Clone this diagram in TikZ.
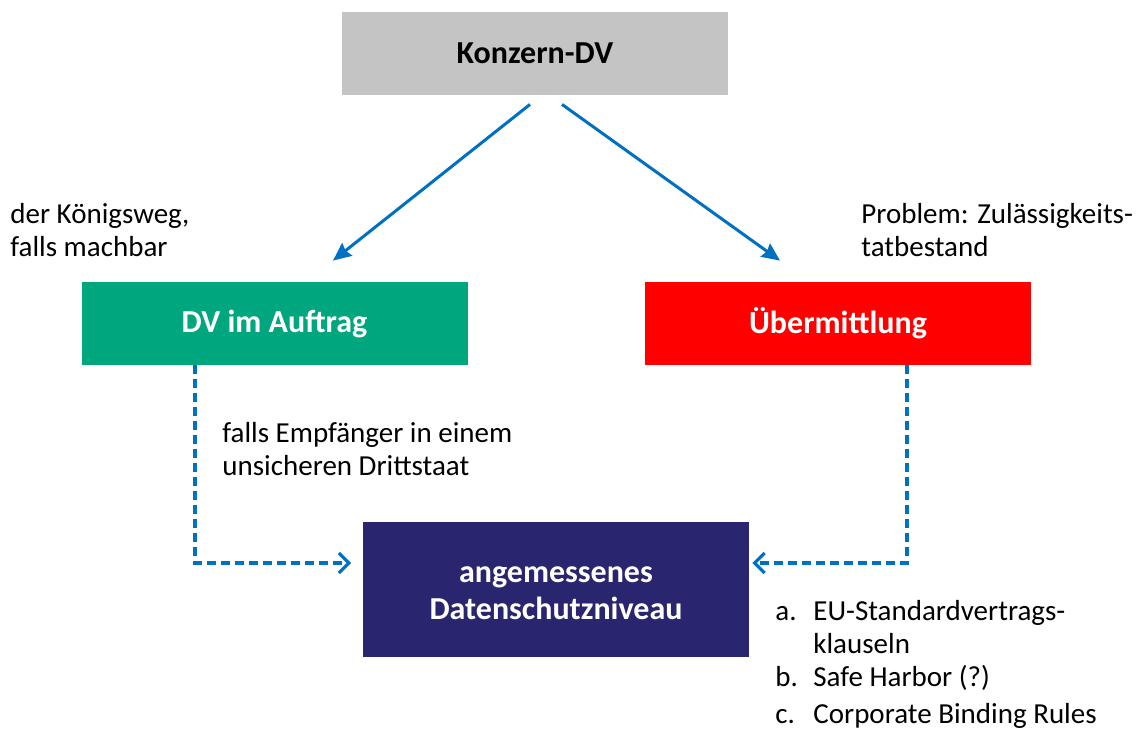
\documentclass[tikz,border=0pt]{standalone}
\usepackage{fontspec}
\setmainfont{Carlito}
\usepackage{tikz}
\usetikzlibrary{arrows.meta, positioning}

\definecolor{kgray}{HTML}{C4C4C4}
\definecolor{kgreen}{HTML}{00A67E}
\definecolor{kred}{HTML}{FF0000}
\definecolor{kblue}{HTML}{29266F}
\definecolor{karrow}{HTML}{0070C0}

\tikzset{
	box/.style={minimum width=193pt, minimum height=41.5pt, align=center, font=\fontsize{16}{18.5}\selectfont\bfseries},
	note/.style={anchor=north west, align=left, inner sep=0pt, font=\fontsize{14.5}{16.5}\selectfont},
	item/.style={note, text height=10.5pt},
	arr/.style={draw=karrow, line width=1.5pt, -{Stealth[length=9pt, width=8pt, inset=1pt]}},
	darr/.style={draw=karrow, line width=1.6pt, dash pattern=on 4.5pt off 2.5pt, -{Straight Barb[length=5pt, width=10pt, line width=1.6pt]}}
}

\begin{document}
\begin{tikzpicture}[x=0.5pt, y=-0.5pt]

\useasboundingbox (0,0) rectangle (1142,729);

\node [box, fill=kgray] (kdv) at (535,53.5) {Konzern-DV};
\node [box, fill=kgreen, text=white] (auf) at (274.5,323.5) {DV im Auftrag};
\node [box, fill=kred, text=white] (ueb) at (838,323.5) {Übermittlung};
\node [box, fill=kblue, text=white, minimum height=67.5pt, text height=30.5pt] (adn) at (556,589.5) {
	angemessenes \\
	Datenschutzniveau
};

\node [note] (weg) at (10,203) {
	der Königsweg, \\
	falls machbar
};
\node [note] (prob) at (861,203) {
	Problem: Zulässigkeits- \\
	tatbestand
};
\node [note] (fall) at (222,422) {
	falls Empfänger in einem \\
	unsicheren Drittstaat
};

% Liste a.-c.
\node [item] (la) at (775,599) {a.};
\node [item] (ta) at (813,599) {EU-Standardvertrags-};
\node [item] (tk) at (813,632) {klauseln};
\node [item] (lb) at (775,665) {b.};
\node [item] (tb) at (813,665) {Safe Harbor (?)};
\node [item] (lc) at (775,702) {c.};
\node [item] (tc) at (813,702) {Corporate Binding Rules};

\path [arr] ([xshift=-2.5pt, yshift=-4.5pt]kdv.south) -- ([xshift=29.25pt, yshift=10.5pt]auf.north);
\path [arr] ([xshift=13.5pt, yshift=-4.5pt]kdv.south) -- ([xshift=-29pt, yshift=10.5pt]ueb.north);

\path [darr] ([xshift=-39.75pt]auf.south) |- ([xshift=-5.7pt, yshift=13.25pt]adn.west);
\path [darr] ([xshift=34.5pt]ueb.south) |- ([xshift=1.5pt, yshift=13.25pt]adn.east);

\end{tikzpicture}
\end{document}
